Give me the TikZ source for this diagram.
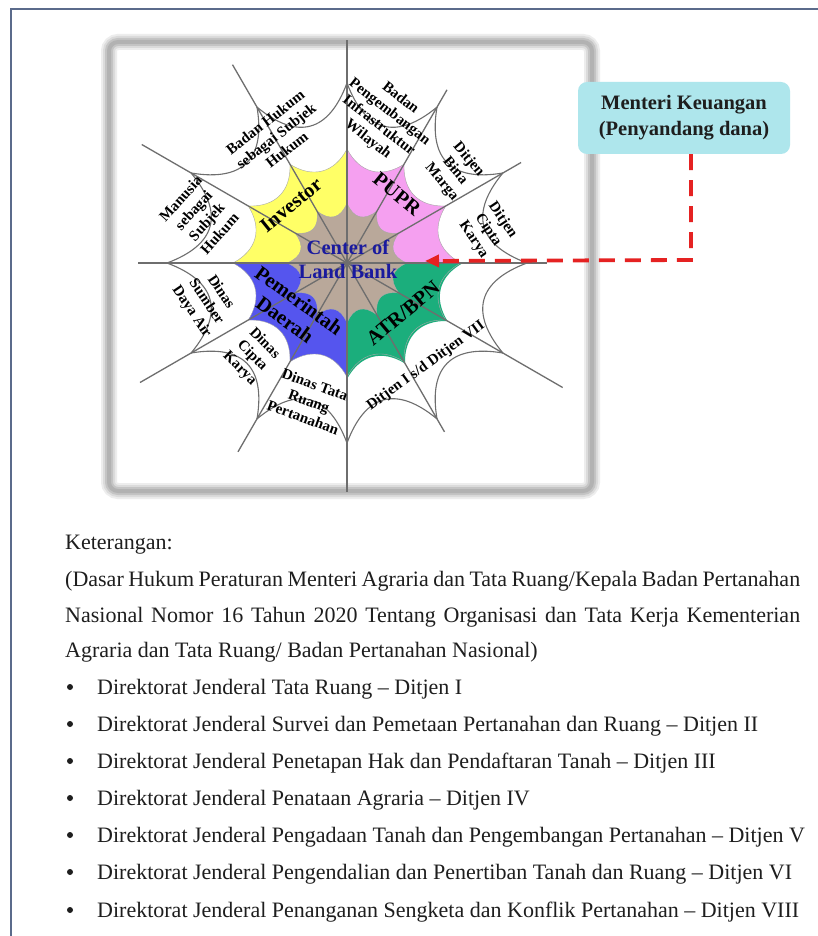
\documentclass[tikz,border=0pt]{standalone}
\usepackage{fontspec}
\setmainfont{Liberation Serif}
\usetikzlibrary{arrows.meta}
\definecolor{frameblue}{HTML}{5B6B8B}
\definecolor{webgray}{HTML}{6E6E6E}
\definecolor{cyellow}{HTML}{FFFF66}
\definecolor{cpink}{HTML}{F5A0F0}
\definecolor{cblue}{HTML}{5555EE}
\definecolor{cgreen}{HTML}{1BAE7C}
\definecolor{ctan}{HTML}{B9A89A}
\definecolor{cnavy}{HTML}{1A1A9E}
\definecolor{ccyan}{HTML}{AEE6EC}
\definecolor{cred}{HTML}{E52222}
\definecolor{ctext}{HTML}{1E1E1E}
\begin{document}
\begin{tikzpicture}[x=1pt,y=1pt,
  small/.style={font=\bfseries\fontsize{15}{17.5}\selectfont, align=center, inner sep=0pt, text=black},
  big/.style={font=\bfseries\fontsize{20.5}{23.5}\selectfont, align=center, inner sep=0pt, text=black},
  legend/.style={font=\fontsize{22}{26}\selectfont, anchor=base west, inner sep=0pt, text=ctext},
  bul/.style={circle, fill=ctext, inner sep=0pt, minimum size=6pt},
  spoke/.style={draw=webgray, line width=1.3pt},
  thread/.style={draw=webgray, line width=1.1pt},
  edge/.style={draw=webgray!60, line width=0.4pt}
]
\useasboundingbox (0,0) rectangle (818,-936);
\fill[white] (0,0) rectangle (818,-936);
% page frame
\draw[frameblue, line width=2pt] (11,-940) -- (11,-9) -- (822,-9);
% shadowed frame around web
\draw[black!7, line width=16pt, rounded corners=9] (109,-42) rectangle (592,-491);
\draw[black!14, line width=12pt, rounded corners=9] (109,-42) rectangle (592,-491);
\draw[black!23, line width=8pt, rounded corners=9] (109,-42) rectangle (592,-491);
\draw[black!30, line width=4pt, rounded corners=9] (109,-42) rectangle (592,-491);

\begin{scope}[shift={(347,-263)}]
  % coloured quadrants
  \fill[cyellow] (0,0) -- (90:114) foreach \a in {90,120,150} { .. controls (\a+8:91) and (\a+22:91) .. (\a+30:114) } -- cycle;
  \fill[cpink] (0,0) -- (0:114) foreach \a in {0,30,60} { .. controls (\a+8:91) and (\a+22:91) .. (\a+30:114) } -- cycle;
  \fill[cblue] (0,0) -- (180:114) foreach \a in {180,210,240} { .. controls (\a+8:91) and (\a+22:91) .. (\a+30:114) } -- cycle;
  \fill[cgreen] (0,0) -- (270:116) foreach \a in {270,300,330} { .. controls (\a+8:93) and (\a+22:93) .. (\a+30:116) } -- cycle;
  \foreach \a in {0,30,...,330} {
    \draw[edge] (\a:114) .. controls (\a+8:91) and (\a+22:91) .. (\a+30:114);
  }
  % tan centre
  \fill[ctan] (0:60) foreach \a in {0,30,...,330} { .. controls (\a+8:45) and (\a+22:45) .. (\a+30:60) } -- cycle;
  \foreach \a in {0,30,...,330} {
    \draw[edge] (\a:60) .. controls (\a+8:45) and (\a+22:45) .. (\a+30:60);
  }
  % outer threads
  \foreach \a in {0,30,...,330} {
    \draw[thread] (\a:180) .. controls (\a+8:132) and (\a+22:132) .. (\a+30:180);
  }
  % spokes
  \foreach \a/\l in {90/223,60/200,30/201,0/200,-30/249,-60/195,-90/229,-120/218,-150/239,180/209,150/237,120/229} {
    \draw[spoke] (0,0) -- (\a:\l);
  }
\end{scope}

% web labels
\node[small, rotate=38] (badanhukum) at (276,-136) {Badan Hukum\\sebagai Subjek\\Hukum};
\node[small, rotate=48] (manusia) at (200,-216) {Manusia\\sebagai\\Subjek\\Hukum};
\node[small, rotate=-38] (bpiw) at (384,-119) {Badan\\Pengembangan\\Infrastruktur\\Wilayah};
\node[small, rotate=-50] (binamarga) at (455,-171) {Ditjen\\Bina\\Marga};
\node[small, rotate=-56] (ciptakarya) at (488,-230) {Ditjen\\Cipta\\Karya};
\node[big, rotate=39] (investor) at (291,-205) {Investor};
\node[big, rotate=-39] (pupr) at (397,-194) {PUPR};
\node[big, text=cnavy, font=\bfseries\fontsize{20.5}{24}\selectfont] (clb) at (348,-259) {Center of\\Land Bank};
\node[big, rotate=-36] (pemda) at (292,-310) {Pemerintah\\Daerah};
\node[big, rotate=40] (atr) at (403,-313) {ATR/BPN};
\node[small, rotate=-56] (sda) at (206,-302) {Dinas\\Sumber\\Daya Air};
\node[small, rotate=-45] (dck) at (252,-356) {Dinas\\Cipta\\Karya};
\node[small, rotate=-20] (dtr) at (309,-401) {Dinas Tata\\Ruang\\Pertanahan};
\node[small, rotate=36] (ditjen) at (426,-366) {Ditjen I s/d Ditjen VII};

% Menteri Keuangan box
\node[fill=ccyan, rounded corners=9pt, minimum width=212pt, minimum height=72pt, align=center,
      font=\bfseries\fontsize{20.5}{26}\selectfont, text=ctext] (mk) at (684,-118)
      {Menteri Keuangan\\(Penyandang dana)};
\coordinate (bend) at (691,-260);
\coordinate (tip) at (425,-261);
\draw[cred, line width=3.8pt, dash pattern=on 16pt off 10pt, -{Triangle[length=14pt,width=12pt]}]
  (mk.south -| bend) -- (bend) -- (tip);

% legend
\node[legend] (ket) at (65,-549) {Keterangan:};
\node[legend] (l1) at (65,-586) {\makebox[735pt][s]{(Dasar Hukum Peraturan Menteri Agraria dan Tata Ruang/Kepala Badan Pertanahan}};
\node[legend] (l2) at (65,-622) {\makebox[735pt][s]{Nasional Nomor 16 Tahun 2020 Tentang Organisasi dan Tata Kerja Kementerian}};
\node[legend] (l3) at (65,-657) {Agraria dan Tata Ruang/ Badan Pertanahan Nasional)};
\foreach \y/\t [count=\i] in {
  694/{Direktorat Jenderal Tata Ruang – Ditjen I},
  731/{Direktorat Jenderal Survei dan Pemetaan Pertanahan dan Ruang – Ditjen II},
  768/{Direktorat Jenderal Penetapan Hak dan Pendaftaran Tanah – Ditjen III},
  805/{Direktorat Jenderal Penataan Agraria – Ditjen IV},
  842/{Direktorat Jenderal Pengadaan Tanah dan Pengembangan Pertanahan – Ditjen V},
  879/{Direktorat Jenderal Pengendalian dan Penertiban Tanah dan Ruang – Ditjen VI},
  917/{Direktorat Jenderal Penanganan Sengketa dan Konflik Pertanahan – Ditjen VIII}} {
  \node[bul] (b\i) at (70,-\y+7) {};
  \node[legend] (t\i) at (97,-\y) {\t};
}
\end{tikzpicture}
\end{document}
